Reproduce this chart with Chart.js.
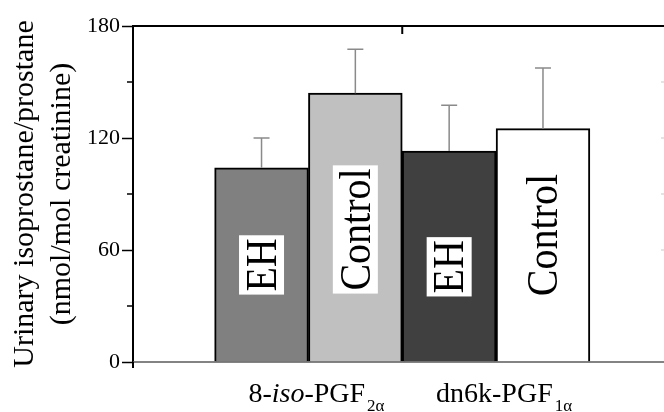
<!DOCTYPE html>
<html>
<head>
<meta charset="utf-8">
<script src="https://cdn.jsdelivr.net/npm/chart.js@4/dist/chart.umd.min.js"></script>
<style>
  html, body { margin: 0; padding: 0; background: #fff; }
  #wrap { width: 664px; height: 412px; }
</style>
</head>
<body>
<div id="wrap"><canvas id="myChart" width="664" height="412"></canvas></div>
<script>
// data
const barLabels = ['EH', 'Control', 'EH', 'Control'];
const means = [104, 144, 113, 125];
const errors = [16, 23.5, 24.5, 32.5];
const barColors = ['#808080', '#c0c0c0', '#404040', '#ffffff'];
const groupNames = [[['8-', false], ['iso', true], ['-PGF', false]], [['dn6k-PGF', false]]];
const groupSubs = ['2α', '1α'];
const yTitle = ['Urinary isoprostane/prostane', '(nmol/mol creatinine)'];

// where the rotated bar labels sit (in axis units)
const labelY = [52, 71, 51, 68];

const SERIF = '"Liberation Serif", "DejaVu Serif", serif';

const decor = {
  id: 'decor',
  afterDatasetsDraw(chart) {
    const { ctx } = chart;
    const x = chart.scales.x, y = chart.scales.y;

    // error bars (upper only)
    ctx.save();
    ctx.strokeStyle = '#8a8a8a';
    ctx.lineWidth = 1.5;
    means.forEach((m, i) => {
      const px = x.getPixelForValue(i + 1);
      const y0 = y.getPixelForValue(m), y1 = y.getPixelForValue(m + errors[i]);
      ctx.beginPath();
      ctx.moveTo(px, y0);
      ctx.lineTo(px, y1);
      ctx.moveTo(px - 8, y1);
      ctx.lineTo(px + 8, y1);
      ctx.stroke();
    });
    ctx.restore();

    // rotated labels inside bars
    barLabels.forEach((t, i) => {
      const px = x.getPixelForValue(i + 1);
      const py = y.getPixelForValue(labelY[i]);
      ctx.save();
      ctx.font = '40px ' + SERIF;
      const w = ctx.measureText(t).width;
      ctx.fillStyle = '#fff';
      ctx.fillRect(px - 22.5, py - w / 2 - 3, 45, w + 6);
      ctx.translate(px, py);
      ctx.rotate(-Math.PI / 2);
      ctx.scale(1, 1.1);
      ctx.fillStyle = '#000';
      ctx.textAlign = 'center';
      ctx.textBaseline = 'alphabetic';
      ctx.fillText(t, 0, 13);
      ctx.restore();
    });
  },
  afterDraw(chart) {
    const { ctx, chartArea: a } = chart;
    const x = chart.scales.x, y = chart.scales.y;
    ctx.save();
    // top frame line
    ctx.strokeStyle = '#000';
    ctx.lineWidth = 2;
    ctx.beginPath();
    ctx.moveTo(a.left, a.top);
    ctx.lineTo(a.right, a.top);
    ctx.moveTo(x.getPixelForValue(2.5), a.top);
    ctx.lineTo(x.getPixelForValue(2.5), a.top + 8);
    ctx.stroke();
    // bottom axis line
    ctx.strokeStyle = '#5a5a5a';
    ctx.lineWidth = 1.5;
    ctx.beginPath();
    ctx.moveTo(a.left, a.bottom);
    ctx.lineTo(a.right, a.bottom);
    ctx.stroke();
    // y axis stub below zero
    ctx.strokeStyle = '#000';
    ctx.lineWidth = 2;
    ctx.beginPath();
    ctx.moveTo(a.left, a.bottom);
    ctx.lineTo(a.left, a.bottom + 6);
    ctx.stroke();
    // minor ticks
    ctx.lineWidth = 1.5;
    [30, 90, 150].forEach(v => {
      const py = y.getPixelForValue(v);
      ctx.beginPath();
      ctx.moveTo(a.left - 6, py);
      ctx.lineTo(a.left, py);
      ctx.stroke();
    });
    // faint ticks of cut-off right axis
    ctx.strokeStyle = '#c8c8c8';
    ctx.lineWidth = 1;
    [60, 90, 120, 150].forEach(v => {
      const py = y.getPixelForValue(v);
      ctx.beginPath();
      ctx.moveTo(a.right - 3, py);
      ctx.lineTo(a.right, py);
      ctx.stroke();
    });

    // group labels with italics and subscripts
    ctx.fillStyle = '#000';
    ctx.textBaseline = 'alphabetic';
    groupNames.forEach((parts, g) => {
      const cx = x.getPixelForValue(g * 2 + 1.5);
      let total = 0;
      const widths = parts.map(([t, it]) => {
        ctx.font = (it ? 'italic ' : '') + '28px ' + SERIF;
        const w = ctx.measureText(t).width;
        total += w;
        return w;
      });
      ctx.font = '17px ' + SERIF;
      const sw = ctx.measureText(groupSubs[g]).width;
      let px = cx + 8 - (total + sw + 2) / 2;
      parts.forEach(([t, it], k) => {
        ctx.font = (it ? 'italic ' : '') + '28px ' + SERIF;
        ctx.fillText(t, px, 402);
        px += widths[k];
      });
      ctx.font = '17px ' + SERIF;
      ctx.fillText(groupSubs[g], px + 2, 411);
    });
    ctx.restore();
  }
};

new Chart(document.getElementById('myChart').getContext('2d'), {
  type: 'bar',
  data: {
    datasets: [{
      data: means.map((v, i) => ({ x: i + 1, y: v })),
      backgroundColor: barColors,
      borderColor: '#000',
      borderWidth: 2,
      barPercentage: 1,
      categoryPercentage: 1,
    }],
  },
  options: {
    responsive: false,
    animation: false,
    layout: { padding: { top: 26, bottom: 50, left: 0, right: 0 } },
    plugins: { legend: { display: false }, tooltip: { enabled: false } },
    scales: {
      x: {
        type: 'linear',
        min: -0.37,
        max: 5.29,
        offset: false,
        display: false,
      },
      y: {
        min: 0,
        max: 180,
        afterFit(s) { s.width = 133; },
        ticks: {
          stepSize: 30,
          callback: v => (v % 60 === 0 ? v : ''),
          font: { family: SERIF, size: 22 },
          color: '#000',
          padding: 2,
        },
        grid: {
          drawOnChartArea: false,
          tickLength: 11,
          tickWidth: 1.5,
          tickColor: c => (c.tick && c.tick.value % 60 === 0 ? '#000' : 'rgba(0,0,0,0)'),
        },
        border: { color: '#000', width: 2 },
        title: {
          display: true,
          text: yTitle,
          font: { family: SERIF, size: 30, lineHeight: 1.25 },
          color: '#000',
          padding: { top: 6, bottom: 0 },
        },
      },
    },
  },
  plugins: [decor],
});
</script>
</body>
</html>
